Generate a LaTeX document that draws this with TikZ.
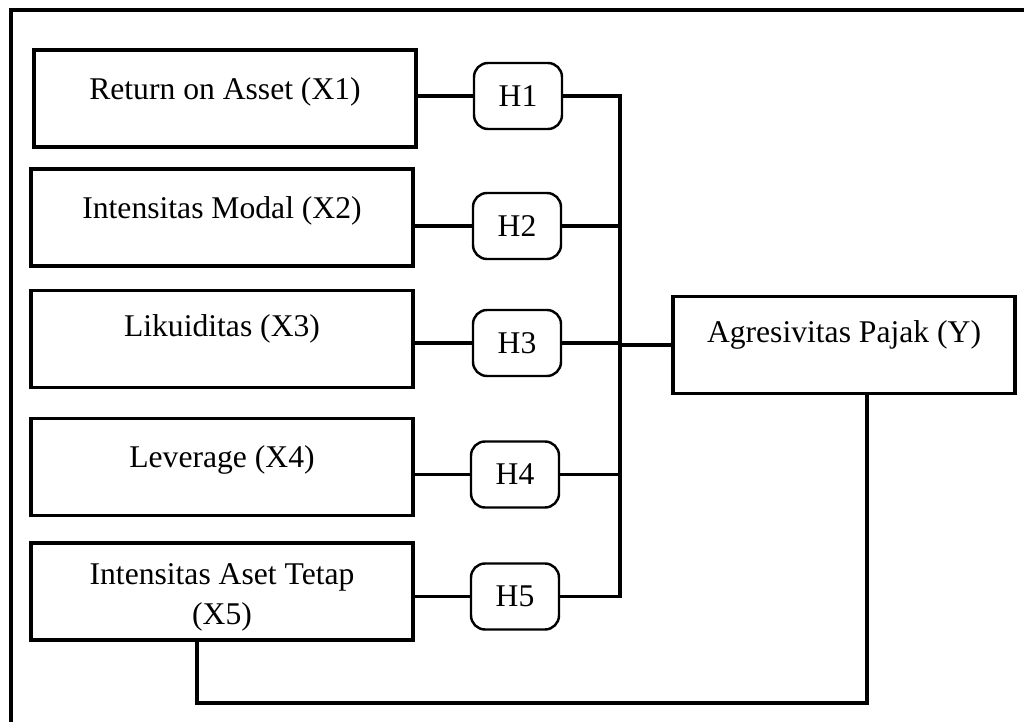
\documentclass[tikz,border=0pt]{standalone}
\usepackage{fontspec}
\setmainfont{Liberation Serif}
\tikzset{var/.style={draw,line width=1.9pt,minimum width=7.64cm,minimum height=1.94cm,inner sep=0pt},txt/.style={anchor=north,inner sep=0pt,align=center,font=\fontsize{18}{22.8}\selectfont},hyp/.style={draw,line width=1.4pt,rounded corners=2.8mm,minimum width=1.76cm,minimum height=1.32cm,font=\fontsize{18}{22.8}\selectfont},link/.style={line width=1.9pt}}

\begin{document}
\begin{tikzpicture}[x=0.02cm,y=-0.02cm]
\path[use as bounding box,clip] (0,0) rectangle (1024,722);
\draw[line width=1.9pt] (11,10) rectangle (1040,740);
% variables
\node[var,label={[txt,yshift=-16.5pt]north:Return on Asset (X1)}] (X1) at (225,98.5) {};
\node[var,label={[txt,yshift=-16.5pt]north:Intensitas Modal (X2)}] (X2) at (222,217.5) {};
\node[var,label={[txt,yshift=-14.2pt]north:Likuiditas (X3)}] (X3) at (222,339) {};
\node[var,label={[txt,yshift=-15.9pt]north:Leverage (X4)}] (X4) at (222,467) {};
\node[var,label={[txt,yshift=-12.5pt]north:Intensitas Aset Tetap\\(X5)}] (X5) at (222,591.5) {};
\node[var,minimum width=6.84cm,label={[txt,yshift=-14.2pt]north:Agresivitas Pajak (Y)}] (Y) at (844,345) {};
% hypotheses
\node[hyp] (H1) at (518,96) {H1};
\node[hyp] (H2) at (517,226) {H2};
\node[hyp] (H3) at (517,343) {H3};
\node[hyp] (H4) at (515,474.5) {H4};
\node[hyp] (H5) at (515,596.5) {H5};
\coordinate (bus) at (620,345);
\coordinate (retX) at (197,703);
\coordinate (retY) at (867,703);
\draw[link] (X1.east |- H1.west) -- (H1.west);\draw[link] (X2.east |- H2.west) -- (H2.west);\draw[link] (X3.east |- H3.west) -- (H3.west);\draw[link] (X4.east |- H4.west) -- (H4.west);\draw[link] (X5.east |- H5.west) -- (H5.west);
\draw[link] (H1.east) -- (H1.east -| bus) -- (H5.east -| bus) -- (H5.east);\draw[link] (H2.east) -- (H2.east -| bus);\draw[link] (H3.east) -- (H3.east -| bus);\draw[link] (H4.east) -- (H4.east -| bus);
\draw[link] (bus) -- (Y.west);
\draw[link] (X5.south -| retX) -- (retX) -- (retY) -- (Y.south -| retY);
\end{tikzpicture}
\end{document}
